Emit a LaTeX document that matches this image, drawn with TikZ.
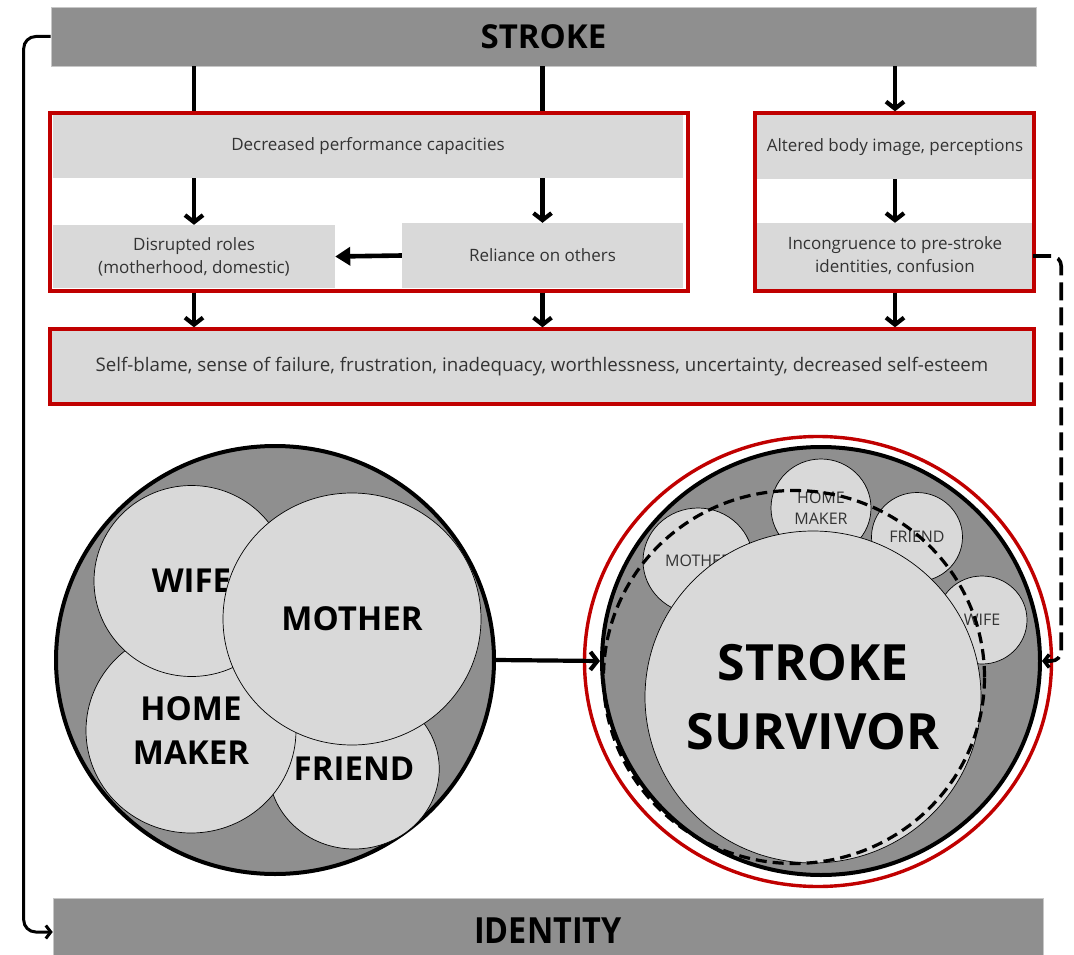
\documentclass[tikz,border=0pt]{standalone}
\usepackage{fontspec}
\setmainfont{Open Sans}
\usetikzlibrary{arrows.meta,shapes.geometric,calc}
\definecolor{barfill}{HTML}{8F8F8F}
\definecolor{boxfill}{HTML}{D9D9D9}
\definecolor{framered}{HTML}{C00000}
\definecolor{txt}{HTML}{333333}
\begin{document}
\begin{tikzpicture}[x=1pt,y=-1pt,
  bar/.style={fill=barfill, draw=black!22, line width=0.6pt, inner sep=0pt,
    font=\fontsize{33}{40}\selectfont\bfseries},
  infobox/.style={fill=boxfill, inner sep=0pt, text=txt, align=center,
    font=\fontsize{17}{23}\selectfont},
  redframe/.style={draw=framered, line width=3.4pt, inner sep=0pt},
  plainline/.style={line width=4.2pt},
  flow/.style={line width=4.2pt, -{Straight Barb[length=7pt,width=18pt]}},
  solidflow/.style={line width=4.6pt, -{Triangle[length=15pt,width=18pt]}},
  loopline/.style={line width=3pt, rounded corners=12pt,
    -{Straight Barb[length=5pt,width=13pt]}},
  dashline/.style={line width=3.6pt, dash pattern=on 18pt off 7pt,
    rounded corners=10pt, -{Straight Barb[length=5pt,width=13pt]}},
  ring/.style={ellipse, draw, line width=4pt, fill=barfill, inner sep=0pt},
  role/.style={ellipse, draw, line width=0.7pt, fill=boxfill, inner sep=0pt,
    align=center, font=\fontsize{33}{44}\selectfont\bfseries},
  smallrole/.style={ellipse, draw, line width=0.7pt, fill=boxfill, inner sep=0pt,
    align=center, text=txt, font=\fontsize{16}{21}\selectfont},
]
\useasboundingbox (0,0) rectangle (1074,955);

% top and bottom bars
\node[bar, minimum width=985pt, minimum height=59pt] (stroke) at (543.5,36.5) {STROKE};
\node[bar, minimum width=990pt, minimum height=68pt] (identity) at (548,932)
  {\raisebox{3pt}{\scalebox{0.9}[1]{\fontsize{36}{40}\selectfont IDENTITY}}};

% consequence boxes
\node[infobox, minimum width=630pt, minimum height=63pt] (dec) at (368,146.5)
  {Decreased performance capacities};
\node[infobox, minimum width=282pt, minimum height=63pt] (dis) at (194,256.5)
  {Disrupted roles\\(motherhood, domestic)};
\node[infobox, minimum width=281pt, minimum height=65pt] (rel) at (542.5,255.5)
  {Reliance on others};
\node[infobox, minimum width=276pt, minimum height=64pt] (alt) at (895,147)
  {Altered body image, perceptions};
\node[infobox, minimum width=276pt, minimum height=66pt] (inc) at (895,256)
  {Incongruence to pre-stroke\\identities, confusion};
\node[infobox, minimum width=984pt, minimum height=75pt, font=\fontsize{18.7}{23}\selectfont]
  (self) at (542,366.5)
  {Self-blame, sense of failure, frustration, inadequacy, worthlessness, uncertainty, decreased self-esteem};

% red frames
\node[redframe, minimum width=638pt, minimum height=178pt] (leftframe) at (369,202) {};
\node[redframe, minimum width=279pt, minimum height=178pt] (rightframe) at (894.5,202) {};
\node[redframe, minimum width=984pt, minimum height=75pt] (selfframe) at (542,366.5) {};

% flow arrows
\draw[plainline] (dis.north |- stroke.south) -- (dis.north |- leftframe.north);
\draw[plainline] (rel.north |- stroke.south) -- (rel.north |- leftframe.north);
\draw[flow] (alt.north |- stroke.south) -- (alt.north |- rightframe.north);
\draw[flow] (dis.north |- dec.south) -- (dis.north);
\draw[flow] (rel.north |- dec.south) -- (rel.north);
\draw[flow] (alt.south) -- (inc.north);
\draw[solidflow] (rel.west) -- (dis.east);
\draw[flow] (dis.south |- leftframe.south) -- (dis.south |- selfframe.north);
\draw[flow] (rel.south |- leftframe.south) -- (rel.south |- selfframe.north);
\draw[flow] (alt.south |- rightframe.south) -- (alt.south |- selfframe.north);

% identity before the stroke
\node[ring, minimum width=438pt, minimum height=428pt] (lcircle) at (275,660) {};
\node[role, minimum width=164pt, minimum height=160pt] (friend) at (354,769) {FRIEND};
\node[role, minimum width=210pt, minimum height=205pt] (homemaker) at (191,730.5) {HOME\\MAKER};
\node[role, minimum width=195pt, minimum height=191pt] (wife) at (191.5,581) {WIFE};
\node[role, minimum width=258pt, minimum height=252pt] (mother) at (352,619) {MOTHER};

% identity after the stroke
\node[ellipse, draw=framered, line width=3.4pt, inner sep=0pt,
  minimum width=467pt, minimum height=450pt] (redring) at (818,661.5) {};
\node[ring, minimum width=438pt, minimum height=428pt] (survring) at (821,661) {};
\node[smallrole, minimum width=110pt, minimum height=106pt] (smother) at (698,561) {MOTHER};
\node[smallrole, minimum width=100pt, minimum height=98pt] (shome) at (821,508) {HOME\\MAKER};
\node[smallrole, minimum width=91pt, minimum height=89pt] (sfriend) at (917,537) {FRIEND};
\node[smallrole, minimum width=90pt, minimum height=88pt] (swife) at (982,620) {WIFE};
\node[ellipse, draw, line width=0.7pt, fill=boxfill, inner sep=0pt,
  font=\fontsize{50}{69}\selectfont\bfseries,
  minimum width=336pt, minimum height=332pt] (survivor) at (813,697)
  {\makebox[0pt]{\parbox{300pt}{\centering STROKE\\SURVIVOR}}};
\node[ellipse, draw, line width=3.2pt, dash pattern=on 11pt off 6pt, inner sep=0pt,
  minimum width=381pt, minimum height=373pt] (dashring) at (794,677) {};

% connectors between the panels
\draw[flow] (lcircle.east) -- (survring.west);
\draw[loopline] (stroke.west) -- ++(-27,0) |- (identity.west);
\draw[dashline] (inc.east) -- ++(28,0) |- (survring.east);
\end{tikzpicture}
\end{document}
